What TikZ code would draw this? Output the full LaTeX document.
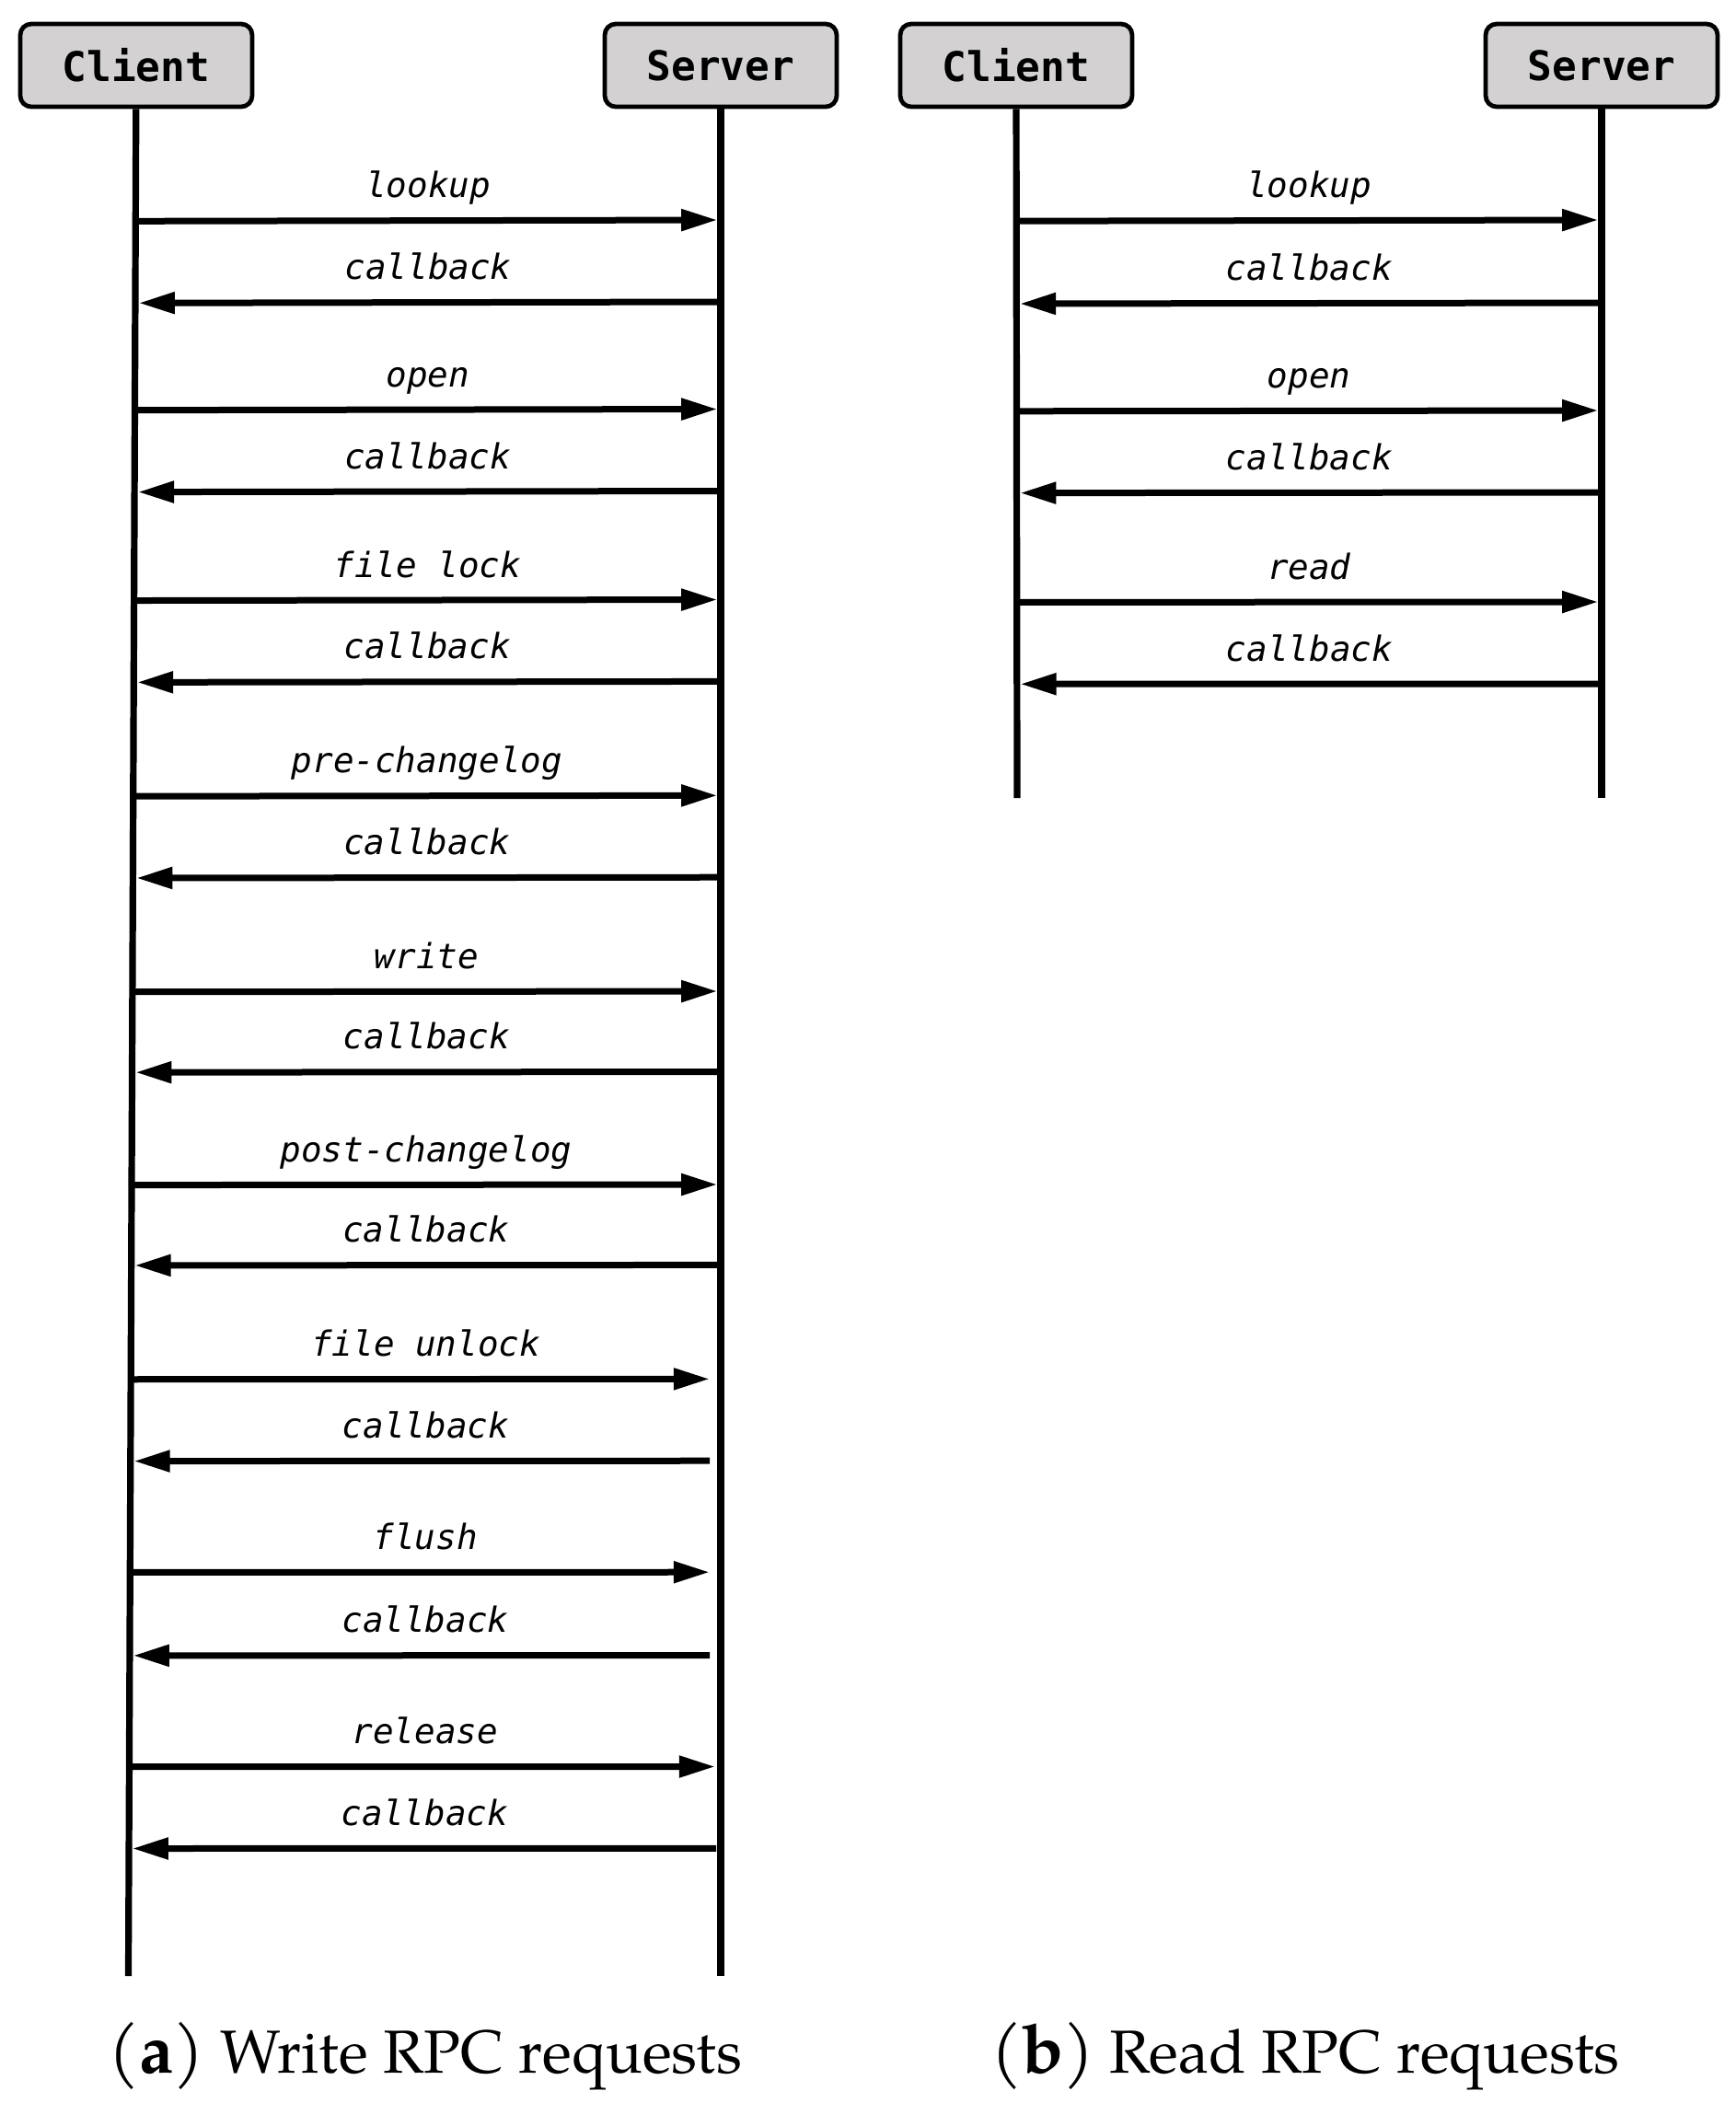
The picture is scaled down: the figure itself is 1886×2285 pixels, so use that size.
\documentclass[tikz,border=0pt]{standalone}
\usepackage{fontspec}
\newfontfamily\hdrfont{DejaVu Sans Mono Bold}
\newfontfamily\msgfont{DejaVu Sans Mono Oblique}
\newfontfamily\capfont{TeX Gyre Pagella}
\usetikzlibrary{arrows.meta,calc,positioning}

\definecolor{boxgray}{RGB}{211,209,210}

\tikzset{
    actor/.style={draw=black, line width=1.2pt, rounded corners=3pt, fill=boxgray,
        minimum width=63pt, minimum height=22.5pt, inner sep=0pt,
        font=\hdrfont\fontsize{11.1}{13}\selectfont},
    lifeline/.style={line width=1.8pt},
    msgline/.style={line width=1.75pt, -{Triangle[length=9.8pt,width=5.6pt]}},
    msglabel/.style={anchor=base, inner sep=0pt,
        font=\msgfont\fontsize{9.4}{11}\selectfont},
    subcap/.style={anchor=base, inner sep=0pt,
        font=\capfont\fontsize{16.5}{20}\selectfont}
}

\begin{document}
\begin{tikzpicture}[x=0.25pt, y=-0.25pt]
    \useasboundingbox (0,0) rectangle (1886,2285);

    % (a) write: actors and lifelines
    \node[actor] (cA) at (148,71) {Client};
    \node[actor] (sA) at (783,71) {Server};
    \coordinate (cAend) at (139.5,2147);
    \coordinate (sAend) at (783,2147);
    \draw[lifeline] (cA) -- (cAend);
    \draw[lifeline] (sA) -- (sAend);

    % (a) write: requests and callbacks
    \foreach \y/\msg/\gap [count=\i] in {
        239/lookup/0.9, 328/callback/0.9, 444.5/open/0.9, 533.5/callback/0.9,
        651.5/file lock/0.9, 740.4/callback/0.9, 864.3/pre-changelog/0.9, 953.2/callback/0.9,
        1077/write/0.9, 1164.5/callback/0.9, 1287/post-changelog/0.9, 1374.4/callback/0.9,
        1498.3/file unlock/3, 1587.2/callback/3, 1708.2/flush/3, 1798.6/callback/3,
        1919.5/release/1.5, 2008.4/callback/1.2} {
        \coordinate (cA\i) at ($(cA.south)!{(\y-117)/2030}!(cAend)$);
        \coordinate (sA\i) at (783,\y);
        \ifodd\i
            \draw[msgline, shorten >=\gap pt] (cA\i) -- (sA\i);
        \else
            \draw[msgline, shorten <=\gap pt, shorten >=0.9pt] (sA\i) -- (cA\i);
        \fi
        \node[msglabel] (mA\i) at ($(cA\i)!0.5!(sA\i)+(0,-25)$) {\msg};
    }

    % (b) read: actors and lifelines
    \node[actor] (cB) at (1104,71) {Client};
    \node[actor] (sB) at (1740,71) {Server};
    \coordinate (cBend) at (1105,867);
    \coordinate (sBend) at (1740,867);
    \draw[lifeline] (cB) -- (cBend);
    \draw[lifeline] (sB) -- (sBend);

    % (b) read: requests and callbacks
    \foreach \y/\msg [count=\i] in {
        239/lookup, 329/callback, 446/open, 535/callback, 654/read, 743/callback} {
        \coordinate (cB\i) at ($(cB.south)!{(\y-117)/750}!(cBend)$);
        \coordinate (sB\i) at (1740,\y);
        \ifodd\i
            \draw[msgline, shorten >=0.9pt] (cB\i) -- (sB\i);
        \else
            \draw[msgline, shorten >=0.9pt] (sB\i) -- (cB\i);
        \fi
        \node[msglabel] (mB\i) at ($(cB\i)!0.5!(sB\i)+(0,-25)$) {\msg};
    }

    % sub-captions
    \node[subcap] (capA) at (462,2252)
        {{\fontsize{18.6}{20}\selectfont(\textbf{a})} Write RPC requests};
    \node[subcap] (capB) at (1418,2252)
        {{\fontsize{18.6}{20}\selectfont(\textbf{b})} Read RPC requests};
\end{tikzpicture}
\end{document}
